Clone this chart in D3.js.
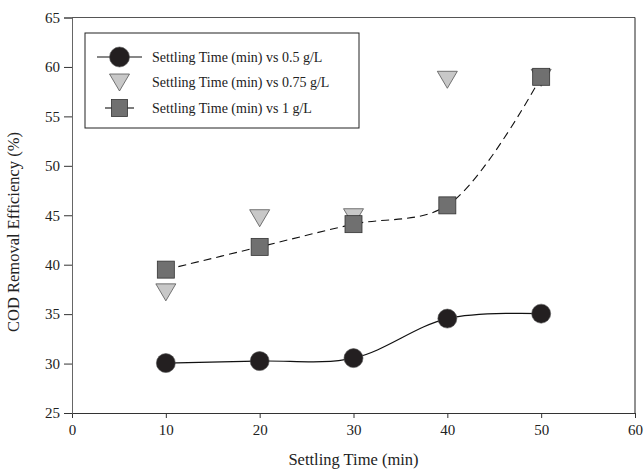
<!DOCTYPE html>
<html>
<head>
<meta charset="utf-8">
<script src="https://cdn.jsdelivr.net/npm/d3@7"></script>
<style>
  body { margin: 0; background: #fff; }
  svg { display: block; font-family: "Liberation Serif", "Times New Roman", serif; }
</style>
</head>
<body>
<svg id="chart"></svg>
<script>
// chart values
const settlingTime = [10, 20, 30, 40, 50];
const cod05 = [30.05, 30.25, 30.55, 34.55, 35.05];
const cod075 = [37.2, 44.7, 44.8, 58.7, 58.9];
const cod1 = [39.5, 41.8, 44.1, 46.0, 59.0];
const xTicks = [0, 10, 20, 30, 40, 50, 60];
const yTicks = [25, 30, 35, 40, 45, 50, 55, 60, 65];
const legendLabels = [
    "Settling Time (min) vs 0.5 g/L",
    "Settling Time (min) vs 0.75 g/L",
    "Settling Time (min) vs 1 g/L"
];

const W = 644, H = 470;
const margin = { top: 17.5, right: 9, bottom: 57, left: 72 };
const width = W - margin.left - margin.right;
const height = H - margin.top - margin.bottom;

const svg = d3.select("#chart").attr("width", W).attr("height", H);
const g = svg.append("g")
    .attr("transform", "translate(" + margin.left + "," + margin.top + ")");

const x = d3.scaleLinear().domain([0, 60]).range([0, width]);
const y = d3.scaleLinear().domain([25, 65]).range([height, 0]);

// frame: top and right edges
g.append("line").attr("x1", 0).attr("x2", width).attr("y1", 0).attr("y2", 0)
    .attr("stroke", "#555").attr("stroke-width", 1);
g.append("line").attr("x1", width).attr("x2", width).attr("y1", 0).attr("y2", height)
    .attr("stroke", "#222").attr("stroke-width", 1);

// axes
const xAxis = d3.axisBottom(x).tickValues(xTicks).tickSize(5).tickPadding(6);
const yAxis = d3.axisLeft(y).tickValues(yTicks).tickSize(8).tickPadding(4);

const gx = g.append("g").attr("transform", "translate(0," + height + ")").call(xAxis);
const gy = g.append("g").call(yAxis);
[gx, gy].forEach(function (a) {
    a.select(".domain").attr("stroke", "#333");
    a.selectAll(".tick line").attr("stroke", "#333");
    a.selectAll(".tick text").attr("fill", "#222")
        .style("font-family", "Liberation Serif, serif").style("font-size", "15px");
});
gy.select(".domain").attr("stroke", "#666");

// axis titles
svg.append("text")
    .attr("x", margin.left + width / 2).attr("y", 465)
    .attr("text-anchor", "middle").attr("fill", "#222")
    .style("font-size", "16.5px")
    .text("Settling Time (min)");
svg.append("text")
    .attr("transform", "translate(19," + 232 + ") rotate(-90)")
    .attr("text-anchor", "middle").attr("fill", "#222")
    .style("font-size", "16.5px")
    .text("COD Removal Efficiency (%)");

const line = d3.line()
    .x(function (d, i) { return x(settlingTime[i]); })
    .y(function (d) { return y(d); })
    .curve(d3.curveCatmullRom.alpha(0.5));

const triPath = "M-10,-8.5L10,-8.5L0,8.5Z";

// 0.5 g/L: solid line + black circles
g.append("path").attr("d", line(cod05))
    .attr("fill", "none").attr("stroke", "#111").attr("stroke-width", 1.2);
g.selectAll(".c05").data(cod05).enter().append("circle")
    .attr("cx", function (d, i) { return x(settlingTime[i]); })
    .attr("cy", function (d) { return y(d); })
    .attr("r", 9.5)
    .attr("fill", "#231f20").attr("stroke", "#555").attr("stroke-width", 0.6);

// 0.75 g/L: grey down-triangles, no line
g.selectAll(".c075").data(cod075).enter().append("path")
    .attr("d", triPath)
    .attr("transform", function (d, i) {
        return "translate(" + x(settlingTime[i]) + "," + y(d) + ")";
    })
    .attr("fill", "#c8c8c8").attr("stroke", "#555").attr("stroke-width", 0.8);

// 1 g/L: dashed line + grey squares
g.append("path").attr("d", line(cod1))
    .attr("fill", "none").attr("stroke", "#111").attr("stroke-width", 1.1)
    .attr("stroke-dasharray", "8,5");
g.selectAll(".c1").data(cod1).enter().append("rect")
    .attr("x", function (d, i) { return x(settlingTime[i]) - 8.5; })
    .attr("y", function (d) { return y(d) - 8.5; })
    .attr("width", 17).attr("height", 17)
    .attr("fill", "#707070").attr("stroke", "#333").attr("stroke-width", 0.8);

// legend
const lg = svg.append("g").attr("transform", "translate(85,33)");
lg.append("rect").attr("width", 274).attr("height", 95)
    .attr("fill", "#fff").attr("stroke", "#222").attr("stroke-width", 1);

const rowY = [24, 49.5, 75];
const symX = 34.5;
// row 1
lg.append("line").attr("x1", 12).attr("x2", 57).attr("y1", rowY[0]).attr("y2", rowY[0])
    .attr("stroke", "#111").attr("stroke-width", 1.2);
lg.append("circle").attr("cx", symX).attr("cy", rowY[0]).attr("r", 10)
    .attr("fill", "#231f20").attr("stroke", "#555").attr("stroke-width", 0.6);
// row 2
lg.append("path").attr("d", triPath)
    .attr("transform", "translate(" + symX + "," + rowY[1] + ")")
    .attr("fill", "#c8c8c8").attr("stroke", "#555").attr("stroke-width", 0.8);
// row 3
lg.append("line").attr("x1", 20).attr("x2", 49).attr("y1", rowY[2]).attr("y2", rowY[2])
    .attr("stroke", "#111").attr("stroke-width", 1.1);
lg.append("rect").attr("x", symX - 8).attr("y", rowY[2] - 8.5)
    .attr("width", 16).attr("height", 17)
    .attr("fill", "#707070").attr("stroke", "#333").attr("stroke-width", 0.8);

lg.selectAll(".lt").data(legendLabels).enter().append("text")
    .attr("x", 67).attr("y", function (d, i) { return rowY[i]; })
    .attr("dy", "0.35em").attr("fill", "#222")
    .style("font-size", "14px")
    .text(function (d) { return d; });
</script>
</body>
</html>
